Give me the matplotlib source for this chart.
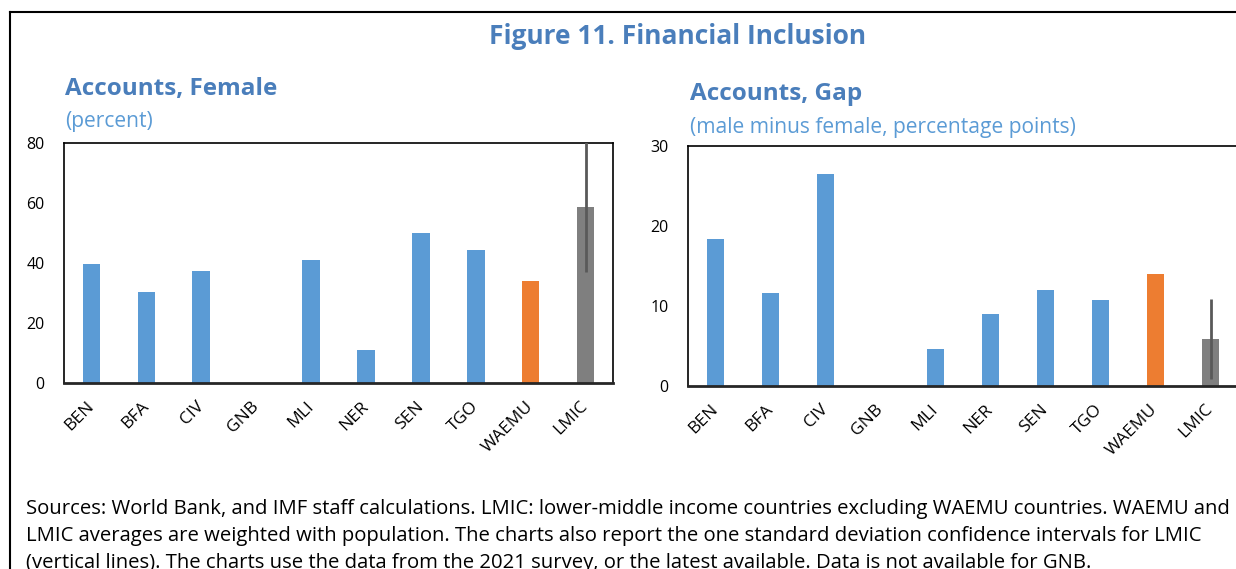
import numpy as np
import matplotlib
matplotlib.use("Agg")
import matplotlib.pyplot as plt
from matplotlib.lines import Line2D

plt.rcParams['font.family'] = ['Open Sans', 'DejaVu Sans']

## data ##
countries = ["BEN", "BFA", "CIV", "GNB", "MLI", "NER", "SEN", "TGO", "WAEMU", "LMIC"]
female = [39.8, 30.5, 37.3, np.nan, 41.1, 10.9, 50.1, 44.2, 34.1, 58.8]
gap = [18.4, 11.6, 26.5, np.nan, 4.6, 9.0, 12.0, 10.8, 14.0, 5.9]
lmic_sd_female = 21.8  # one std dev for LMIC (vertical line)
lmic_sd_gap = 5.0

blue = "#5B9BD5"
orange = "#ED7D31"
grey = "#7F7F7F"
title_col = "#4A7EBB"
sub_col = "#5B9BD5"
bar_cols = [blue] * 8 + [orange, grey]

fig = plt.figure(figsize=(12.36, 5.69), dpi=100)

# outer frame of the box
fig.add_artist(Line2D([10/1236, 1.0], [1-12/569, 1-12/569], color="black", lw=1.5))
fig.add_artist(Line2D([10/1236, 10/1236], [0, 1-12/569], color="black", lw=1.5))

fig.text(678/1236, 1-36/569, "Figure 11. Financial Inclusion", ha="center", va="center",
         fontsize=19, fontweight="bold", color=title_col)


def draw_panel(rect, vals, sd, ymax, yticks, title, sub, tx, ty):
    ax = fig.add_axes(rect)
    x = np.arange(len(countries))
    ax.bar(x, np.nan_to_num(vals), width=0.32, color=bar_cols, zorder=2)
    ax.errorbar(x[-1], vals[-1], yerr=sd, color="#595959", lw=2, capsize=0, zorder=3)
    ax.set_xlim(-0.5, len(countries) - 0.5)
    ax.set_ylim(0, ymax)
    ax.set_yticks(yticks)
    ax.set_xticks(x)
    ax.set_xticklabels(countries, rotation=45, ha="right", va="center",
                       rotation_mode="anchor", fontsize=12.5)
    ax.tick_params(length=0)
    ax.tick_params(axis="x", pad=15)
    ax.tick_params(axis="y", pad=14, labelsize=11.5)
    for s in ["top", "left", "right"]:
        ax.spines[s].set_linewidth(1.2)
    ax.spines["bottom"].set_linewidth(2)
    ax.spines["bottom"].set_color("#262626")
    fig.text(tx/1236, 1-ty/569, title, ha="left", va="center", fontsize=17.5,
             fontweight="bold", color=title_col)
    fig.text(tx/1236, 1-(ty+33)/569, sub, ha="left", va="center", fontsize=15.1,
             color=sub_col)
    return ax


draw_panel([64/1236, 1-383/569, 549/1236, 240/569], female, lmic_sd_female, 80,
           [0, 20, 40, 60, 80], "Accounts, Female", "(percent)", 65, 89)
draw_panel([688/1236, 1-386/569, 550/1236, 240/569], gap, lmic_sd_gap, 30,
           [0, 10, 20, 30], "Accounts, Gap", "(male minus female, percentage points)", 690, 94)

note = ("Sources: World Bank, and IMF staff calculations. LMIC: lower-middle income countries excluding WAEMU countries. WAEMU and\n"
        "LMIC averages are weighted with population. The charts also report the one standard deviation confidence intervals for LMIC\n"
        "(vertical lines). The charts use the data from the 2021 survey, or the latest available. Data is not available for GNB.")
fig.text(26/1236, 1-499/569, note, ha="left", va="top", fontsize=14.6, linespacing=1.46)

fig.savefig("out.png", dpi=100)
